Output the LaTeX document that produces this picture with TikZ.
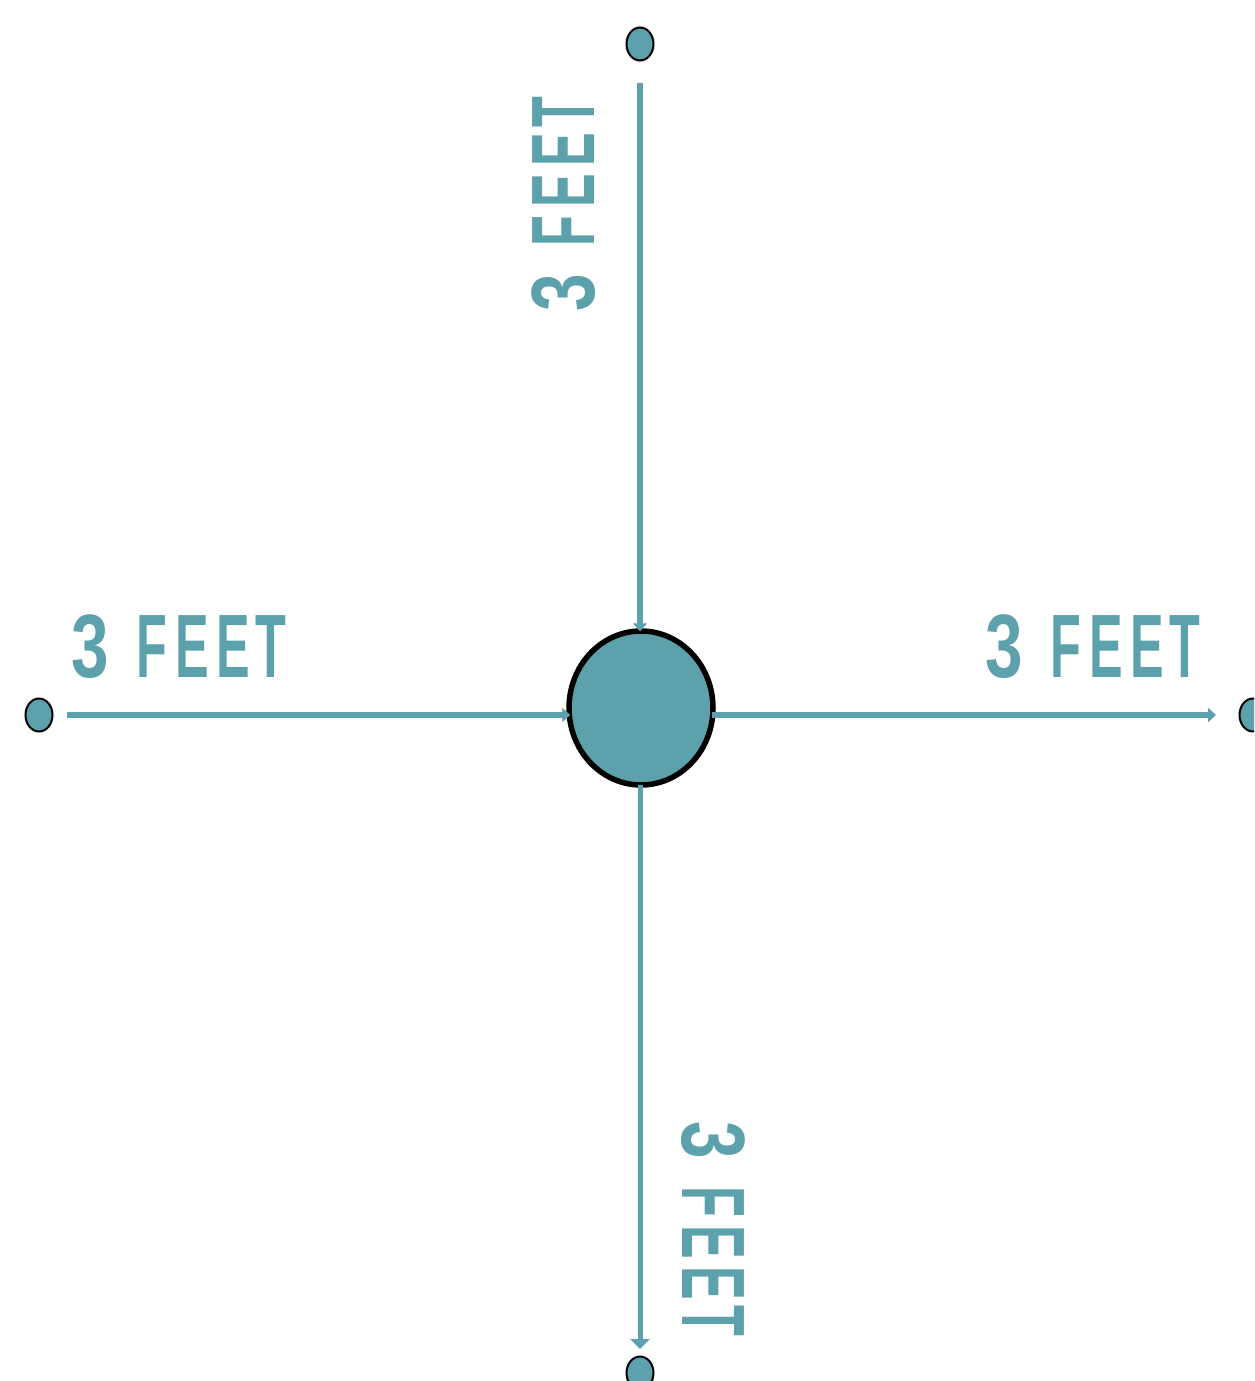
\documentclass[tikz,border=0pt]{standalone}
\usepackage{fontspec}
\usepackage{graphicx}
\newfontfamily\labelfont{Liberation Sans}
\usetikzlibrary{arrows.meta,shapes.geometric}
\definecolor{teal1}{RGB}{92,161,171}
\newcommand\feetlabel{\scalebox{0.75}[1]{3}\scalebox{0.56}[1]{\kern10pt\ \kern15pt F\kern14pt E\kern14pt E\kern9pt T}}
\tikzset{
  dot/.style={ellipse, draw=black, line width=2pt, fill=teal1, minimum width=27pt, minimum height=33pt, inner sep=0pt},
  hub/.style={ellipse, draw=black, line width=5.5pt, fill=teal1, minimum width=144pt, minimum height=154pt, inner sep=0pt},
  conn/.style={draw=teal1, line width=6.5pt, -{Triangle[width=14pt,length=8pt]}},
  conn2/.style={draw=teal1, line width=5pt, -{Triangle[width=19pt,length=10pt]}},
  lbl/.style={text=teal1, inner sep=0pt, font=\labelfont\bfseries\fontsize{90}{90}\selectfont}
}
\begin{document}
\begin{tikzpicture}[x=1pt,y=-1pt]
\useasboundingbox (0,0) rectangle (1254,1381);
\clip (0,0) rectangle (1254,1381);
\fill[white] (0,0) rectangle (1254,1381);
% dots
\node[dot] (dtop) at (640,44) {};
\node[dot] (dleft) at (39,715) {};
\node[dot] (dright) at (1253,715) {};
\node[dot] (dbottom) at (640,1373) {};
% free ends of the connectors
\coordinate (ts) at (640,83);
\coordinate (ls) at (67,715);
\coordinate (re) at (1216,715);
\coordinate (be) at (640,1349);
% center
\node[hub] (c) at (641,708) {};
% connectors
\draw[conn] (ts) -- ([yshift=-3pt]ts |- c.north);
\draw[conn] (ls) -- ([xshift=4pt]ls -| c.west);
\draw[conn] ([xshift=-4pt]re -| c.east) -- (re);
\draw[conn2] ([yshift=3pt]be |- c.south) -- (be);
% labels
\node[lbl, anchor=base west] (tleft) at (71,677) {\feetlabel};
\node[lbl, anchor=base west] (tright) at (985,677) {\feetlabel};
\node[lbl, anchor=base west, rotate=90] (ttop) at (594,312) {\feetlabel};
\node[lbl, anchor=base west, rotate=-90] (tbottom) at (682,1121) {\feetlabel};
\end{tikzpicture}
\end{document}
